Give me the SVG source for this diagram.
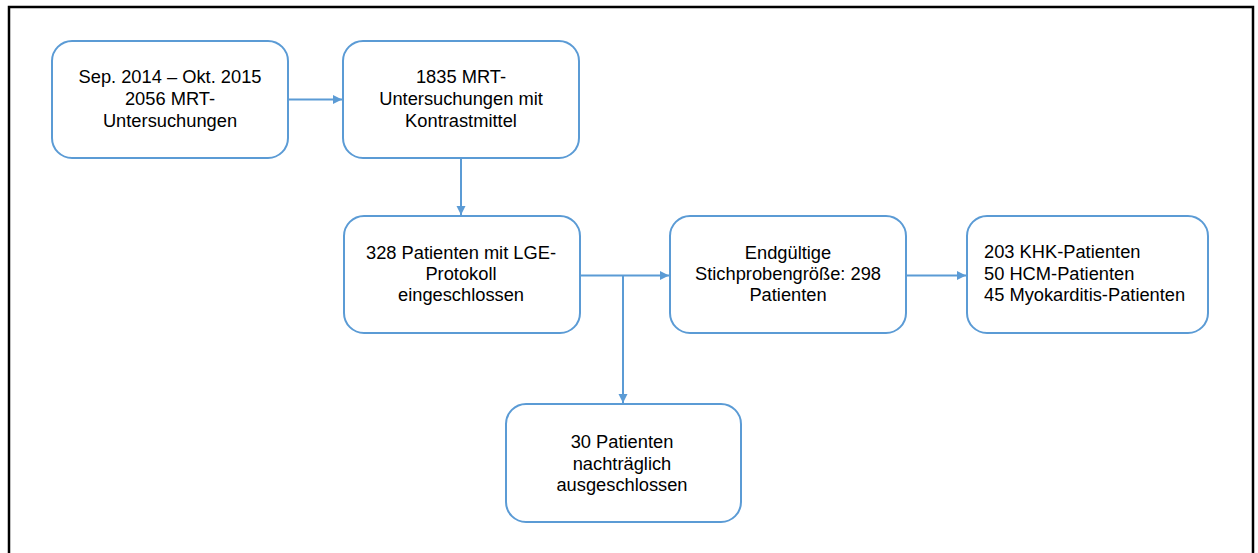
<svg xmlns="http://www.w3.org/2000/svg" width="1258" height="553" viewBox="0 0 1258 553">
<style>
.box{fill:#fff;stroke:#5b9bd5;stroke-width:2}
.t{font-family:"Liberation Sans",Arial,sans-serif;font-size:18.3px;fill:#000}
.c{text-anchor:middle}
.ln{stroke:#5b9bd5;stroke-width:2;fill:none}
</style>
<defs>
<marker id="ah" markerWidth="10" markerHeight="10" refX="9" refY="5" orient="auto" markerUnits="userSpaceOnUse">
<path d="M0,0.5 L9,5 L0,9.5 Z" fill="#5b9bd5"/>
</marker>
</defs>
<rect x="0" y="0" width="1258" height="553" fill="#fff"/>
<path d="M9,560 V7 H1253 V560" fill="none" stroke="#000" stroke-width="2.5"/>
<g id="connectors">
<line class="ln" x1="288" y1="99.5" x2="342" y2="99.5" marker-end="url(#ah)"/>
<line class="ln" x1="461" y1="158" x2="461" y2="215" marker-end="url(#ah)"/>
<line class="ln" x1="580" y1="275.5" x2="669" y2="275.5" marker-end="url(#ah)"/>
<line class="ln" x1="623" y1="275.5" x2="623" y2="403" marker-end="url(#ah)"/>
<line class="ln" x1="906" y1="275.5" x2="966" y2="275.5" marker-end="url(#ah)"/>
</g>
<g id="n1">
<rect class="box" x="52" y="41" width="236" height="117" rx="20"/>
<text class="t c" x="170" y="83">Sep. 2014 – Okt. 2015</text>
<text class="t c" x="170" y="105">2056 MRT-</text>
<text class="t c" x="170" y="127">Untersuchungen</text>
</g>
<g id="n2">
<rect class="box" x="343" y="41" width="236" height="117" rx="20"/>
<text class="t c" x="461" y="83">1835 MRT-</text>
<text class="t c" x="461" y="105">Untersuchungen mit</text>
<text class="t c" x="461" y="127">Kontrastmittel</text>
</g>
<g id="n3">
<rect class="box" x="344" y="216" width="236" height="117" rx="20"/>
<text class="t c" x="461" y="259">328 Patienten mit LGE-</text>
<text class="t c" x="461" y="280">Protokoll</text>
<text class="t c" x="461" y="301">eingeschlossen</text>
</g>
<g id="n4">
<rect class="box" x="670" y="216" width="236" height="117" rx="20"/>
<text class="t c" x="788" y="259">Endgültige</text>
<text class="t c" x="788" y="280">Stichprobengröße: 298</text>
<text class="t c" x="788" y="301">Patienten</text>
</g>
<g id="n5">
<rect class="box" x="967" y="216" width="241" height="117" rx="20"/>
<text class="t" x="984" y="258">203 KHK-Patienten</text>
<text class="t" x="984" y="280">50 HCM-Patienten</text>
<text class="t" x="984" y="301">45 Myokarditis-Patienten</text>
</g>
<g id="n6">
<rect class="box" x="506" y="404" width="235" height="118" rx="20"/>
<text class="t c" x="622" y="448">30 Patienten</text>
<text class="t c" x="622" y="470">nachträglich</text>
<text class="t c" x="622" y="491">ausgeschlossen</text>
</g>
</svg>
